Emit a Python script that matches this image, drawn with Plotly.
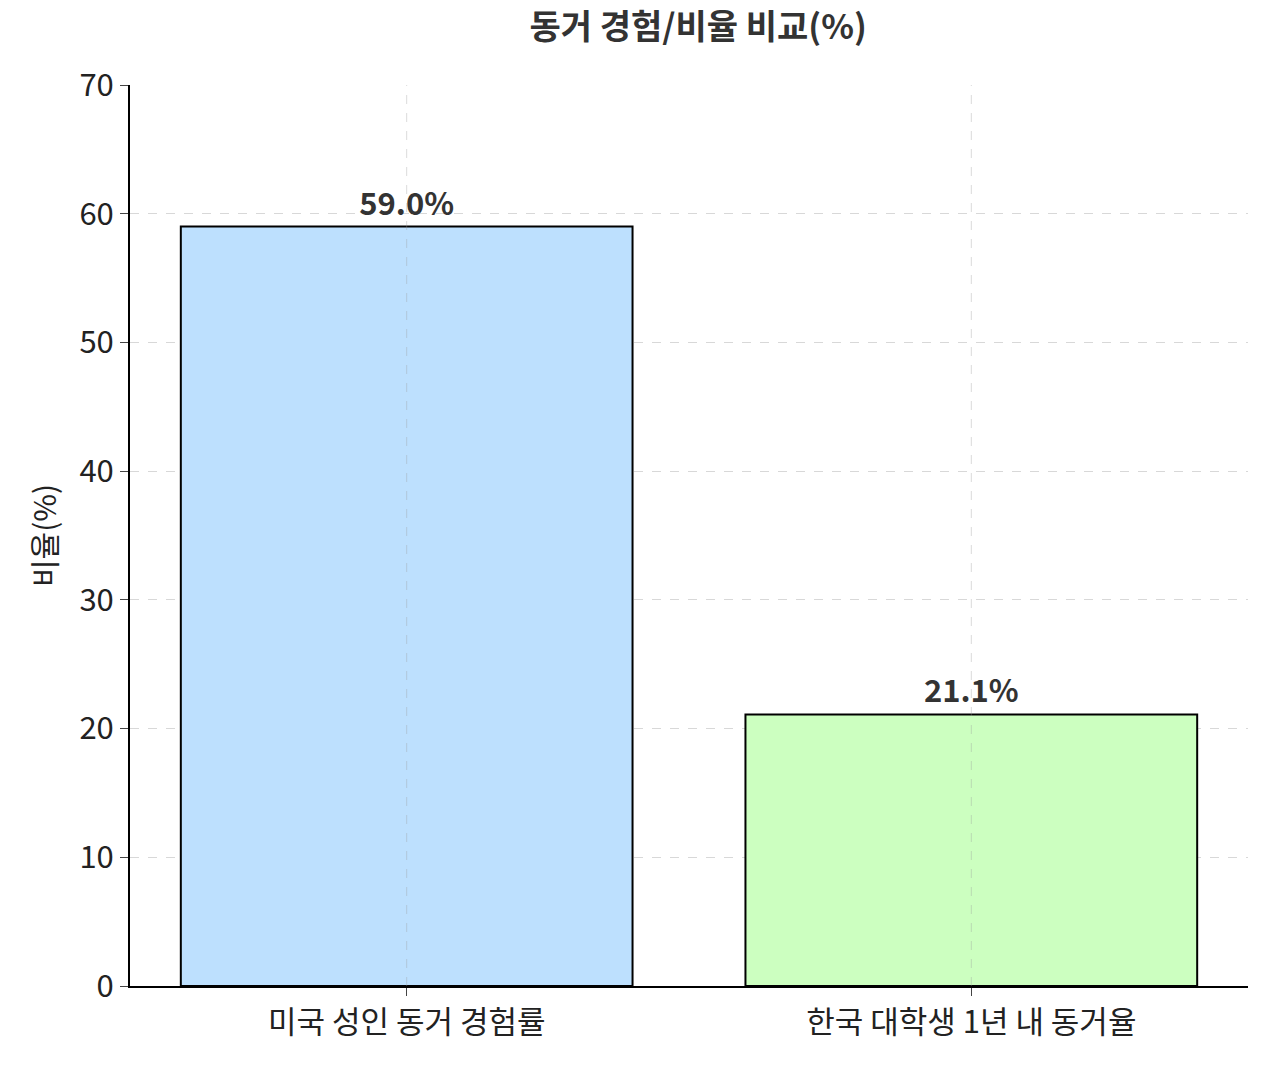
import plotly.graph_objects as go

categories = ["미국 성인 동거 경험률", "한국 대학생 1년 내 동거율"]
values = [59.0, 21.1]
colors = ["#BDE0FE", "#CCFFC0"]
labels = [f"<b>{v:.1f}%</b>" for v in values]

F = "Noto Sans CJK KR"
fig = go.Figure(go.Bar(
    x=list(range(len(categories))), y=values, width=0.8,
    marker=dict(color=colors, line=dict(color="black", width=2)),
    text=labels, textposition="outside", cliponaxis=False,
    textfont=dict(family=F, size=31, color="#333333"),
))
for i in range(len(categories)):
    fig.add_vline(x=i, line=dict(color="rgba(150,150,150,0.35)", width=1, dash="dash"), layer="above")
fig.update_layout(
    width=1264, height=1050, plot_bgcolor="white", paper_bgcolor="white",
    margin=dict(l=122, r=24, t=77, b=72),
    title=dict(text="<b>동거 경험/비율 비교(%)</b>", x=0.546, xanchor="center", y=0.993, yanchor="top",
               font=dict(family=F, size=34, color="#333333")),
    font=dict(family=F, size=30, color="#222222"),
    showlegend=False,
)
fig.update_xaxes(range=[-0.49, 1.49], tickvals=list(range(len(categories))), ticktext=categories,
                 showline=True, linecolor="black", linewidth=2, ticks="outside", ticklen=8,
                 showgrid=False, tickfont=dict(size=31))
fig.update_yaxes(range=[0, 70], dtick=10, title=dict(text="비율(%)", font=dict(size=30), standoff=14),
                 showline=True, linecolor="black", linewidth=2, ticks="outside", ticklen=8,
                 showgrid=True, gridcolor="#d8d8d8", griddash="dash", gridwidth=1,
                 zeroline=False, tickfont=dict(size=31))
fig.write_html("out.html")
